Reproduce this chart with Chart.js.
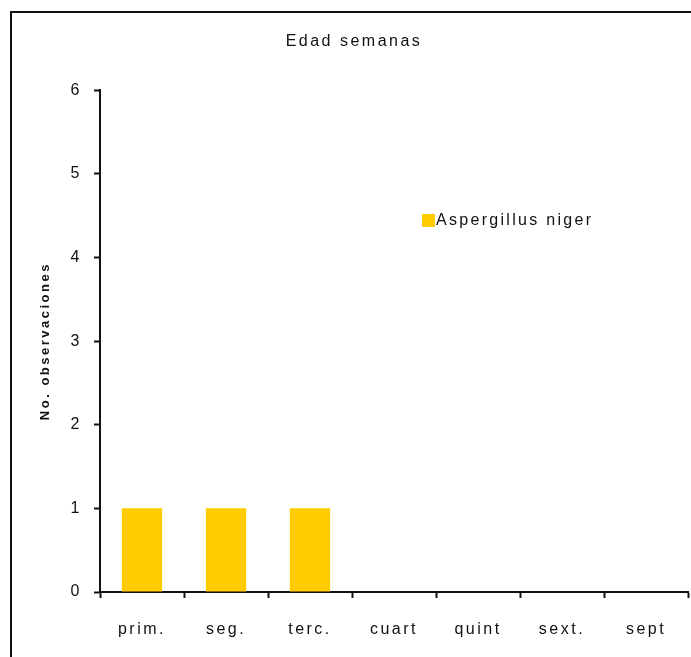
<!DOCTYPE html>
<html>
<head>
<meta charset="utf-8">
<script src="https://cdn.jsdelivr.net/npm/chart.js@4/dist/chart.umd.min.js"></script>
<style>
  html, body { margin: 0; padding: 0; background: #fff; }
  #wrap { width: 691px; height: 657px; }
</style>
</head>
<body>
<div id="wrap"><canvas id="barChart" width="691" height="657"></canvas></div>
<script>
// datos
var semanas = ["prim.", "seg.", "terc.", "cuart", "quint", "sext.", "sept"];
var aspergillusNiger = [1, 1, 1, 0, 0, 0, 0];
var yTicks = [0, 1, 2, 3, 4, 5, 6];

var amarillo = '#FFCC00';
var texto = '#111111';
var fuente = '"Liberation Sans", Arial, sans-serif';

// marco y leyenda dentro del area
var marcoLeyenda = {
    id: 'marcoLeyenda',
    beforeDraw: function (chart) {
        var ctx = chart.ctx;
        ctx.save();
        ctx.fillStyle = '#fff';
        ctx.fillRect(0, 0, chart.width, chart.height);
        ctx.strokeStyle = '#111';
        ctx.lineWidth = 2;
        ctx.strokeRect(11, 12, 720, 720);
        ctx.restore();
        ctx.letterSpacing = '2.5px';
    },
    afterDraw: function (chart) {
        var ctx = chart.ctx;
        var ds = chart.data.datasets[0];
        ctx.save();
        ctx.fillStyle = ds.backgroundColor;
        ctx.fillRect(422, 214, 13, 13);
        ctx.fillStyle = texto;
        ctx.font = '16px ' + fuente;
        ctx.letterSpacing = '2.3px';
        ctx.textBaseline = 'middle';
        ctx.fillText(ds.label, 436, 221);
        ctx.restore();
    }
};

var ctxBar = document.getElementById('barChart');
var myBarChart = new Chart(ctxBar, {
    type: 'bar',
    data: {
        labels: semanas,
        datasets: [{
            label: 'Aspergillus niger',
            data: aspergillusNiger,
            backgroundColor: amarillo,
            borderWidth: 0,
            barPercentage: 0.48,
            categoryPercentage: 1
        }]
    },
    options: {
        responsive: false,
        animation: false,
        layout: { padding: { left: 20, top: 12, right: 3, bottom: 0 } },
        plugins: {
            legend: { display: false },
            tooltip: { enabled: false },
            title: {
                display: true,
                text: 'Edad semanas',
                color: texto,
                font: { family: fuente, size: 16, weight: 'normal' },
                padding: { top: 20, bottom: 39 }
            }
        },
        scales: {
            x: {
                grid: {
                    offset: true,
                    drawOnChartArea: false,
                    drawTicks: true,
                    tickLength: 6,
                    tickWidth: 2,
                    tickColor: '#111'
                },
                border: { color: '#111', width: 2 },
                ticks: {
                    color: texto,
                    padding: 22,
                    maxRotation: 0,
                    font: { family: fuente, size: 16 }
                },
                afterFit: function (scale) { scale.height = 65; }
            },
            y: {
                min: 0,
                max: 6,
                afterBuildTicks: function (scale) {
                    scale.ticks = yTicks.map(function (v) { return { value: v }; });
                },
                grid: {
                    drawOnChartArea: false,
                    tickLength: 6,
                    tickWidth: 2,
                    tickColor: '#111'
                },
                border: { color: '#111', width: 2 },
                ticks: {
                    color: texto,
                    padding: 12,
                    font: { family: fuente, size: 16 }
                },
                title: {
                    display: true,
                    text: 'No. observaciones',
                    color: texto,
                    font: { family: fuente, size: 13, weight: 'bold' },
                    padding: { top: 18, bottom: 0 }
                },
                afterFit: function (scale) { scale.width = 80; }
            }
        }
    },
    plugins: [marcoLeyenda]
});
</script>
</body>
</html>
